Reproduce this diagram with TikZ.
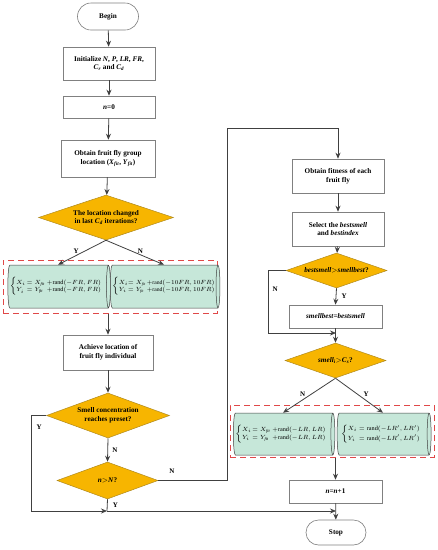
\documentclass[tikz,border=0pt]{standalone}
\usepackage{fontspec}
\setmainfont{Liberation Serif}
\usetikzlibrary{shapes.geometric,shapes.misc,arrows.meta}
\definecolor{dia}{HTML}{F7B500}
\definecolor{diaedge}{HTML}{B08A20}
\definecolor{cyl}{HTML}{C6E7D9}
\definecolor{ln}{HTML}{404040}
\definecolor{reddash}{HTML}{E04848}
\begin{document}
\begin{tikzpicture}[x=1pt,y=-1pt,
  every node/.style={font=\fontsize{7.2}{8.6}\selectfont\bfseries, align=center},
  box/.style={draw=gray, line width=0.6pt, fill=white, rectangle, inner sep=1pt},
  term/.style={draw=gray, line width=0.6pt, fill=white, rounded rectangle, inner sep=1pt},
  dec/.style={draw=diaedge, line width=0.5pt, fill=dia, diamond, inner sep=0pt},
  cyln/.style={draw=ln, line width=0.5pt, fill=cyl, cylinder, shape border rotate=0, aspect=0.22, inner sep=0pt,
     font=\fontsize{6.2}{7.6}\selectfont},
  arr/.style={draw=ln, line width=0.8pt, -{Stealth[length=6pt,width=5pt]}},
  ln/.style={draw=ln, line width=0.8pt},
  dbox/.style={draw=reddash, line width=1pt, dash pattern=on 6pt off 4pt},
  lab/.style={font=\fontsize{7}{8}\selectfont\bfseries}]
\useasboundingbox (0,0) rectangle (438,550);
% dashed frames
\node[dbox, minimum width=214pt, minimum height=53pt] (f1) at (110,286.5) {};
\node[dbox, minimum width=204pt, minimum height=52pt] (f2) at (332,431) {};
% left column
\node[term, minimum width=63pt, minimum height=27pt] (begin) at (108,16.5) {Begin};
\node[box, minimum width=92pt, minimum height=33pt] (init) at (109,63.5) {Initialize \textit{N}, \textit{P}, \textit{LR}, \textit{FR},\\ \textit{C}\textsubscript{\textit{r}} and \textit{C}\textsubscript{\textit{d}}};
\node[box, minimum width=92pt, minimum height=22pt] (n0) at (109,107) {\textit{n}=0};
\node[box, minimum width=94pt, minimum height=37pt] (obt) at (108,158.5) {Obtain fruit fly group\\ location (\textit{X}\textsubscript{\textit{fit}}, \textit{Y}\textsubscript{\textit{fit}})};
\node[dec, aspect=3, minimum width=135pt, minimum height=45pt] (d1) at (106,217.5) {The location changed\\ in last \textit{C}\textsubscript{\textit{d}} iterations?};
\node[cyln, minimum height=100pt, minimum width=43pt] (c1) at (58,286.5)
  {$\left\{\begin{array}{@{}l@{\,}l@{\;}l@{}}X_i &= X_{\mathit{fit}} &+\mathrm{rand}(-FR,FR)\\ Y_i &= Y_{\mathit{fit}} &+\mathrm{rand}(-FR,FR)\end{array}\right.$\hspace{4pt}};
\node[cyln, minimum height=102pt, minimum width=43pt, font=\fontsize{5.6}{7.2}\selectfont] (c2) at (164,286.5)
  {$\left\{\begin{array}{@{}l@{}l@{\,}l@{}}X_i &= X_{\mathit{fit}} &+\mathrm{rand}(-10FR,10FR)\\ Y_i &= Y_{\mathit{fit}} &+\mathrm{rand}(-10FR,10FR)\end{array}\right.$};
\node[box, minimum width=90pt, minimum height=35pt] (ach) at (108,352.5) {Achieve location of\\ fruit fly individual};
\node[dec, aspect=2.7, minimum width=123pt, minimum height=45pt] (d2) at (108,415.5) {Smell concentration\\ reaches preset?};
\node[dec, aspect=2.7, minimum width=101pt, minimum height=37pt] (d3) at (107.5,480.5) {\textit{n}$>$\textit{N}?};
% right column
\node[box, minimum width=92pt, minimum height=34pt] (fit) at (338,176) {Obtain fitness of each\\ fruit fly};
\node[box, minimum width=92pt, minimum height=34pt] (sel) at (338,229) {Select the \textit{bestsmell}\\ and \textit{bestindex}};
\node[dec, aspect=2.9, minimum width=101pt, minimum height=35pt] (d4) at (336.5,270.5) {\textit{bestsmell}$>$\textit{smellbest}?};
\node[box, minimum width=93pt, minimum height=23pt] (sb) at (335.5,316.5) {\textit{smellbest}=\textit{bestsmell}};
\node[dec, aspect=2.9, minimum width=101pt, minimum height=35pt] (d5) at (335.5,360.5) {\textit{smell}\textsubscript{\textit{i}}$>$\textit{C}\textsubscript{\textit{s}}?};
\node[cyln, minimum height=98pt, minimum width=42pt] (c3) at (283,434)
  {$\left\{\begin{array}{@{}l@{\,}l@{\;}l@{}}X_i &= X_{\mathit{fit}} &+\mathrm{rand}(-LR,LR)\\ Y_i &= Y_{\mathit{fit}} &+\mathrm{rand}(-LR,LR)\end{array}\right.$\hspace{4pt}};
\node[cyln, minimum height=94pt, minimum width=42pt] (c4) at (383,434)
  {$\left\{\begin{array}{@{}l@{\;}l@{}}X_i &= \mathrm{rand}(-LR',LR')\\[2pt] Y_i &= \mathrm{rand}(-LR',LR')\end{array}\right.$\hspace{4pt}};
\node[box, minimum width=93pt, minimum height=23pt] (nn) at (335.5,491.5) {\textit{n}=\textit{n}+1};
\node[term, minimum width=62pt, minimum height=25pt] (stop) at (336,532.5) {Stop};
% helper coordinates
\coordinate (m1) at (107,511);
\coordinate (m2) at (336,511);
\coordinate (lp) at (31,415.5);
\coordinate (lq) at (31,511);
\coordinate (r1) at (227,480.5);
\coordinate (r2) at (227,128);
\coordinate (r3) at (338,128);
\coordinate (k1) at (268,270.5);
\coordinate (k2) at (268,333);
\coordinate (k3) at (336,333);
% connectors
\draw[arr] (begin) -- (init);
\draw[arr] (init) -- (n0);
\draw[arr] (n0) -- (obt);
\draw[arr] (obt) -- (d1);
\draw[arr] (d1.south) -- (c1.north) node[lab, pos=0.45, left=2pt] {Y};
\draw[arr] (d1.south) -- (c2.north) node[lab, pos=0.45, right=2pt] {N};
\draw[arr] (ach.north |- f1.south) -- (ach.north);
\draw[arr] (ach) -- (d2);
\draw[arr] (d2.south) -- (d3.north) node[lab, midway, right=1pt] {N};
\draw[ln] (d2.west) -- (lp) -- (lq) node[lab, pos=0.12, right=2pt] {Y};
\draw[arr] (lq) -- (m1);
\draw[ln] (d3.south) -- (m1) node[lab, midway, right=2pt] {Y};
\draw[arr] (m1) -- (m2);
\draw[ln] (d3.east) -- (r1) node[lab, pos=0.2, above=3pt] {N};
\draw[arr] (r1) -- (r2) -- (r3) -- (fit.north);
\draw[arr] (fit) -- (sel);
\draw[arr] (sel) -- (d4);
\draw[arr] (d4.south) -- (sb.north) node[lab, midway, right=2pt] {Y};
\draw[ln] (d4.west) -- (k1) -- (k2) node[lab, pos=0.3, right=1pt] {N};
\draw[arr] (k2) -- (k3);
\draw[arr] (sb.south) -- (d5.north);
\draw[arr] (d5.south) -- (c3.north) node[lab, pos=0.45, left=3pt] {N};
\draw[arr] (d5.south) -- (c4.north) node[lab, pos=0.45, right=3pt] {Y};
\draw[arr] (nn.north |- f2.south) -- (nn.north);
\draw[arr] (nn) -- (stop);
\end{tikzpicture}
\end{document}
